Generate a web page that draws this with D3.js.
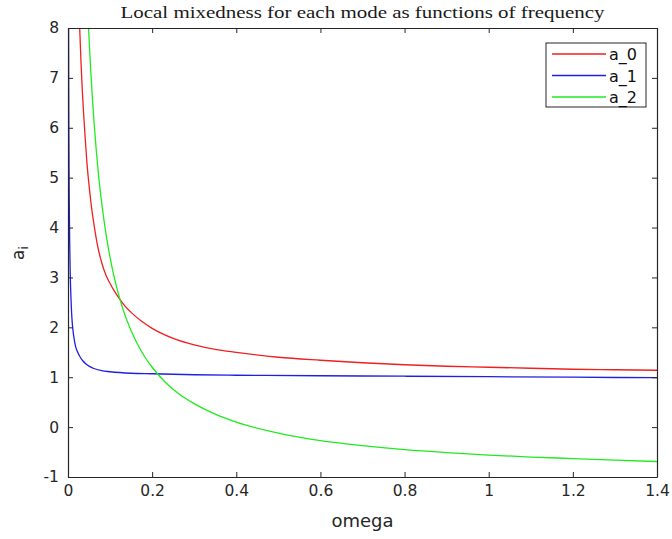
<!DOCTYPE html>
<html>
<head>
<meta charset="utf-8">
<script src="https://cdn.jsdelivr.net/npm/d3@7"></script>
<style>
  html, body { margin: 0; padding: 0; background: #fff; }
  svg { display: block; }
</style>
</head>
<body>
<svg id="chart" width="672" height="539"></svg>
<script>
// Local mixedness a_i(omega) for the three modes
const omegaA0 = [0.026, 0.028, 0.031, 0.034, 0.037, 0.04, 0.045, 0.05, 0.056, 0.062, 0.07, 0.08, 0.09, 0.1, 0.11, 0.12, 0.135, 0.15, 0.175, 0.2, 0.25, 0.3, 0.35, 0.4, 0.5, 0.6, 0.7, 0.8, 0.9, 1.0, 1.1, 1.2, 1.3, 1.4];
const valuesA0 = [8.4, 7.95, 7.3, 6.75, 6.3, 5.9, 5.3, 4.85, 4.4, 4.05, 3.65, 3.3, 3.05, 2.88, 2.73, 2.6, 2.43, 2.3, 2.12, 1.98, 1.78, 1.65, 1.56, 1.5, 1.4, 1.34, 1.29, 1.25, 1.22, 1.2, 1.18, 1.16, 1.15, 1.14];

const omegaA1 = [0.0012, 0.0016, 0.002, 0.0025, 0.003, 0.004, 0.005, 0.006, 0.007, 0.0085, 0.01, 0.0127, 0.015, 0.018, 0.022, 0.0285, 0.035, 0.045, 0.06, 0.08, 0.1, 0.15, 0.2, 0.3, 0.4, 0.6, 0.8, 1.0, 1.2, 1.4];
const valuesA1 = [8.5, 7.0, 6.0, 5.1, 4.5, 3.7, 3.2, 2.85, 2.6, 2.3, 2.1, 1.88, 1.75, 1.62, 1.52, 1.41, 1.33, 1.25, 1.18, 1.13, 1.11, 1.08, 1.07, 1.05, 1.04, 1.03, 1.02, 1.01, 1.0, 0.99];

const omegaA2 = [0.044, 0.046, 0.05, 0.054, 0.058, 0.062, 0.067, 0.072, 0.078, 0.085, 0.093, 0.1, 0.108, 0.117, 0.13, 0.15, 0.175, 0.2, 0.23, 0.26, 0.3, 0.35, 0.4, 0.5, 0.6, 0.7, 0.8, 0.9, 1.0, 1.1, 1.2, 1.3, 1.4];
const valuesA2 = [9.0, 8.55, 7.8, 7.15, 6.6, 6.1, 5.57, 5.1, 4.64, 4.18, 3.73, 3.4, 3.07, 2.76, 2.38, 1.93, 1.51, 1.2, 0.91, 0.69, 0.47, 0.26, 0.1, -0.12, -0.27, -0.37, -0.45, -0.51, -0.56, -0.6, -0.63, -0.66, -0.69];

const seriesNames = ["a_0", "a_1", "a_2"];
const seriesColors = ["#ee2020", "#2020e0", "#20ea20"];

const xTicks = [0, 0.2, 0.4, 0.6, 0.8, 1, 1.2, 1.4];
const yTicks = [-1, 0, 1, 2, 3, 4, 5, 6, 7, 8];

const titleText = "Local mixedness for each mode as functions of frequency";
const xLabel = "omega";

const W = 672, H = 539;
const margin = { left: 68, top: 28, right: W - 657, bottom: H - 477 };
const svg = d3.select("#chart");

const x = d3.scaleLinear().domain([0, 1.4]).range([margin.left, W - margin.right]);
const y = d3.scaleLinear().domain([-1, 8]).range([H - margin.bottom, margin.top]);

const axisColor = "#262626";
const tickFont = "DejaVu Sans, sans-serif";

svg.append("defs").append("clipPath").attr("id", "plotClip")
  .append("rect")
  .attr("x", x(0)).attr("y", y(8))
  .attr("width", x(1.4) - x(0)).attr("height", y(-1) - y(8));

const series = [
  { name: seriesNames[0], color: seriesColors[0], xs: omegaA0, ys: valuesA0 },
  { name: seriesNames[1], color: seriesColors[1], xs: omegaA1, ys: valuesA1 },
  { name: seriesNames[2], color: seriesColors[2], xs: omegaA2, ys: valuesA2 }
];

const line = d3.line()
  .x(d => x(d[0]))
  .y(d => y(d[1]))
  .curve(d3.curveMonotoneX);

const plot = svg.append("g").attr("clip-path", "url(#plotClip)");
series.forEach(s => {
  plot.append("path")
    .datum(s.xs.map((v, i) => [v, s.ys[i]]))
    .attr("fill", "none")
    .attr("stroke", s.color)
    .attr("stroke-width", 1.3)
    .attr("d", line);
});

// Axes: labelled bottom/left, tick-only top/right, ticks pointing inward
const tickLen = 5;
const fmt = d => String(d);

const xAxisB = svg.append("g")
  .attr("transform", `translate(0,${y(-1)})`)
  .call(d3.axisBottom(x).tickValues(xTicks).tickFormat(fmt).tickSizeInner(-tickLen).tickSizeOuter(0).tickPadding(8));
const xAxisT = svg.append("g")
  .attr("transform", `translate(0,${y(8)})`)
  .call(d3.axisTop(x).tickValues(xTicks).tickFormat("").tickSizeInner(-tickLen).tickSizeOuter(0));
const yAxisL = svg.append("g")
  .attr("transform", `translate(${x(0)},0)`)
  .call(d3.axisLeft(y).tickValues(yTicks).tickFormat(fmt).tickSizeInner(-tickLen).tickSizeOuter(0).tickPadding(9));
const yAxisR = svg.append("g")
  .attr("transform", `translate(${x(1.4)},0)`)
  .call(d3.axisRight(y).tickValues(yTicks).tickFormat("").tickSizeInner(-tickLen).tickSizeOuter(0));

[xAxisB, xAxisT, yAxisL, yAxisR].forEach(g => {
  g.selectAll("path.domain").attr("stroke", axisColor).attr("stroke-width", 1.2);
  g.selectAll(".tick line").attr("stroke", axisColor).attr("stroke-width", 1);
  g.selectAll(".tick text")
    .attr("fill", axisColor)
    .style("font-family", tickFont)
    .style("font-size", "15.5px");
});

// Title
const title = svg.append("text")
  .attr("x", (x(0) + x(1.4)) / 2)
  .attr("y", 18)
  .attr("text-anchor", "middle")
  .attr("fill", "#1a1a1a")
  .style("font-family", "Liberation Serif, DejaVu Serif, serif")
  .style("font-size", "16px")
  .text(titleText);
title.attr("textLength", 484).attr("lengthAdjust", "spacingAndGlyphs");

// Axis labels
svg.append("text")
  .attr("x", (x(0) + x(1.4)) / 2)
  .attr("y", 527)
  .attr("text-anchor", "middle")
  .attr("fill", axisColor)
  .style("font-family", tickFont)
  .style("font-size", "18px")
  .text(xLabel);

const yl = svg.append("text")
  .attr("transform", `translate(24,253) rotate(-90)`)
  .attr("text-anchor", "middle")
  .attr("fill", axisColor)
  .style("font-family", tickFont)
  .style("font-size", "17px");
yl.append("tspan").text("a");
yl.append("tspan").attr("dy", 4).style("font-size", "12px").text("i");

// Legend
const lg = svg.append("g");
lg.append("rect")
  .attr("x", 546).attr("y", 43).attr("width", 100).attr("height", 64)
  .attr("fill", "#fff").attr("stroke", axisColor).attr("stroke-width", 1);
series.forEach((s, i) => {
  const ry = 54 + i * 21.5;
  lg.append("line")
    .attr("x1", 552).attr("x2", 606).attr("y1", ry).attr("y2", ry)
    .attr("stroke", s.color).attr("stroke-width", 1.3);
  lg.append("text")
    .attr("x", 609).attr("y", ry + 6)
    .attr("fill", "#111")
    .style("font-family", tickFont)
    .style("font-size", "16px")
    .text(s.name);
});
</script>
</body>
</html>
